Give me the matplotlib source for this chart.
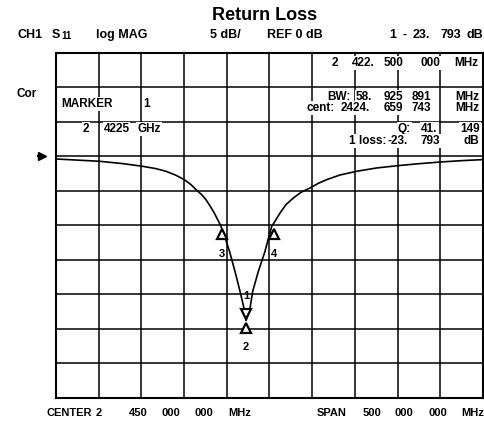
import matplotlib
matplotlib.use("Agg")
import matplotlib.pyplot as plt
import matplotlib.transforms as mtransforms

# ---- data ----
freq_mhz = [2200, 2250.7, 2278.1, 2301.5, 2317.1, 2328.8, 2340.5, 2350.2, 2358.1,
            2364.0, 2370.6, 2375.6, 2380.7, 2385.4, 2389.3, 2393.2, 2398.0, 2403.2,
            2409.6, 2415.5, 2420.1, 2422.5, 2427.2, 2430.3, 2436.9, 2444.7, 2448.5,
            2452.6, 2456.4, 2462.3, 2469.3, 2477.9, 2486.9, 2497.4, 2507.2, 2517.0,
            2532.5, 2552.1, 2575.5, 2600.8, 2626.2, 2649.6, 2675.1, 2700]
loss_db = [-0.39, -0.72, -1.06, -1.45, -1.79, -2.17, -2.75, -3.38, -4.11,
           -4.83, -5.56, -6.28, -7.25, -8.22, -9.18, -10.14, -11.8, -13.77,
           -16.67, -19.57, -21.99, -23.79, -21.99, -19.57, -16.67, -13.77, -12.0,
           -10.14, -9.42, -8.22, -7.0, -6.04, -5.22, -4.59, -3.91, -3.38,
           -2.71, -2.17, -1.69, -1.35, -1.06, -0.83, -0.63, -0.48]

marker_labels = ["1", "2", "3", "4"]
marker_freq = [2422.5, 2422.5, 2393.8, 2455.5]
marker_db = [-23.79, -23.79, -10.3, -10.3]
marker_down = [True, False, False, False]  # True: inverted triangle above trace

center_mhz = 2450
span_mhz = 500
ref_db = 0
scale_db = 5

W, H = 484, 423
fig = plt.figure(figsize=(W / 100, H / 100), dpi=100)
fig.patch.set_facecolor("white")

FONT = ["Liberation Sans", "Arial", "DejaVu Sans"]

def px(x, y):
    return x / W, 1 - y / H

ax = fig.add_axes([56 / W, 25 / H, 427 / W, 345.3 / H])
ax.set_xlim(center_mhz - span_mhz / 2, center_mhz + span_mhz / 2)
ax.set_ylim(ref_db - 7 * scale_db, ref_db + 3 * scale_db)
ax.set_xticks([center_mhz - span_mhz / 2 + i * span_mhz / 10 for i in range(11)])
ax.set_yticks([ref_db - 7 * scale_db + i * scale_db for i in range(11)])
ax.tick_params(left=False, bottom=False, labelleft=False, labelbottom=False)
ax.grid(True, color="black", linewidth=1.1)
for s in ax.spines.values():
    s.set_linewidth(1.5)
    s.set_color("black")

ax.plot(freq_mhz, loss_db, color="black", linewidth=1.2, zorder=3,
        solid_joinstyle="round")

# markers
for lab, f, d, down in zip(marker_labels, marker_freq, marker_db, marker_down):
    if down:
        mk_off, lab_off, mk = 5.0, 18.0, "v"
    else:
        mk_off, lab_off, mk = -5.0, -19.0, "^"
    tr = mtransforms.offset_copy(ax.transData, fig=fig, x=0, y=mk_off, units="points")
    ax.plot([f], [d], marker=mk, markersize=7.5, markerfacecolor="white",
            markeredgecolor="black", markeredgewidth=1.6, transform=tr, zorder=4,
            clip_on=False)
    trl = mtransforms.offset_copy(ax.transData, fig=fig, x=0, y=lab_off, units="points")
    ax.text(f, d, lab, transform=trl, ha="center", va="center", fontsize=8,
            fontweight="bold", family=FONT, zorder=5)

# reference arrow
btr = mtransforms.blended_transform_factory(fig.transFigure, ax.transData)
ax.plot([42 / W], [ref_db], marker=">", markersize=6, color="black",
        transform=btr, clip_on=False)
ax.plot([38 / W, 44 / W], [ref_db, ref_db], color="black", linewidth=1.5,
        transform=btr, clip_on=False)

# title
fig.text(*px(265, 16), "Return Loss", ha="center", va="center", fontsize=13,
         fontweight="bold", family=FONT)

def t(x, y, s, size=8.5, box=False):
    kw = {}
    if box:
        kw["bbox"] = dict(facecolor="white", edgecolor="none", pad=0.6)
    fig.text(*px(x, y), s, ha="center", va="center", fontsize=size,
             fontweight="bold", family=FONT, zorder=10, **kw)

# header
hy = 35
t(30, hy, "CH1", 9)
t(55.5, hy, "S", 9)
t(66, hy + 0.8, "11", 7)
t(121.5, hy, "log MAG", 9)
t(225.5, hy, "5 dB/", 9)
t(295, hy, "REF 0 dB", 9)
t(393, hy, "1", 9)
t(405, hy, "-", 9)
t(421.5, hy, "23.", 9)
t(451, hy, "793", 9)
t(475, hy, "dB", 9)

# annotation area
for x, s in [(335, "2"), (363.5, "422."), (394, "500"), (430, "000"), (466.5, "MHz")]:
    t(x, 63, s, box=True)
for x, s in [(339, "BW:"), (364, "58."), (393, "925"), (421, "891"), (467.5, "MHz")]:
    t(x, 97, s, box=True)
for x, s in [(320.5, "cent:"), (355, "2424."), (393, "659"), (421, "743"), (467.5, "MHz")]:
    t(x, 108, s, box=True)
t(26.5, 94, "Cor", 8.5)
t(86.5, 104, "MARKER", box=True)
t(147, 104, "1", box=True)
for x, s in [(86, "2"), (116.5, "4225"), (149, "GHz")]:
    t(x, 129, s, box=True)
for x, s in [(404.5, "Q:"), (429.5, "41."), (470, "149")]:
    t(x, 129, s, box=True)
for x, s in [(367.5, "1 loss:"), (398, "-23."), (430, "793"), (471.5, "dB")]:
    t(x, 141, s, box=True)

# footer
fy = 413
for x, s in [(69, "CENTER"), (99, "2"), (138, "450"), (171, "000"), (204, "000"),
             (240, "MHz"), (331.5, "SPAN"), (372, "500"), (404, "000"), (437.5, "000"),
             (473, "MHz")]:
    t(x, fy, s, 8)

fig.savefig("out.png", dpi=100, facecolor="white")
